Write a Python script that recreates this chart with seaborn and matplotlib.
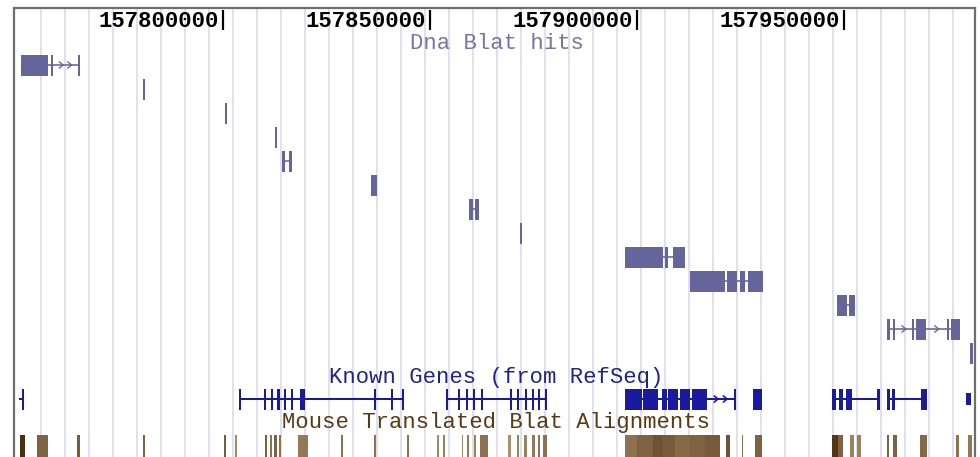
import numpy as np
import matplotlib
matplotlib.use("Agg")
import matplotlib.pyplot as plt
import matplotlib.transforms as mtransforms
import seaborn as sns

sns.set_theme(style="white")
plt.rcParams["font.family"] = ["Liberation Mono", "DejaVu Sans Mono", "DejaVu Sans"]

# ---------------- data ----------------
view_start, view_end = 157749600, 157981600
tick_positions = [157800000, 157850000, 157900000, 157950000]
tick_labels = ["157800000", "157850000", "157900000", "157950000"]

track_titles = ["Dna Blat hits", "Known Genes (from RefSeq)",
                "Mouse Translated Blat Alignments"]

# Dna Blat hits: aligned blocks for each packed row
blat_blocks = [
    [(157751250, 157757900), (157758550, 157758900), (157765050, 157765450)],
    [(157780800, 157781200)],
    [(157800500, 157801000)],
    [(157812600, 157813100)],
    [(157814300, 157815000), (157815900, 157816700)],
    [(157835700, 157837300)],
    [(157859500, 157860350), (157860900, 157861950)],
    [(157871700, 157872200)],
    [(157897100, 157906300), (157906800, 157907500), (157908700, 157911600)],
    [(157912800, 157921300), (157921700, 157924200), (157924800, 157926100),
     (157926800, 157930400)],
    [(157948300, 157950700), (157951300, 157952600)],
    [(157960350, 157961200), (157961700, 157962400), (157966400, 157966900),
     (157967350, 157969800), (157974850, 157975350), (157975800, 157978000)],
    [(157980500, 157981000)],
]
blat_strand = ["+"] * 13
blat_arrows = [True, False, False, False, False, False, False, False, False,
               False, False, True, False]

# Known genes (RefSeq)
gene_spans = [(157750700, 157751900), (157804000, 157843650),
              (157853900, 157878290), (157897100, 157923900),
              (157928100, 157930100), (157947100, 157958550),
              (157960300, 157970100), (157979450, 157980650)]
gene_exons = [
    [(157751550, 157751900)],
    [(157804000, 157804500), (157809950, 157810450), (157811650, 157812150),
     (157813200, 157813700), (157814800, 157815300), (157816500, 157817000),
     (157818550, 157819850), (157836500, 157837000), (157840600, 157841100),
     (157843150, 157843650)],
    [(157853900, 157854390), (157856800, 157857280), (157858730, 157859220),
     (157860420, 157860900), (157862350, 157862840), (157869230, 157869720),
     (157871040, 157871530), (157872980, 157873460), (157874670, 157875150),
     (157876110, 157876600), (157877800, 157878290)],
    [(157897100, 157901150), (157901550, 157905150), (157905950, 157907200),
     (157907550, 157910000), (157910400, 157912800), (157913200, 157916850),
     (157923450, 157923900)],
    [(157928100, 157930100)],
    [(157947100, 157947950), (157948650, 157949750), (157950450, 157951900),
     (157958050, 157958550)],
    [(157960300, 157961100), (157961500, 157962300), (157968500, 157970100)],
    [(157979450, 157980650)],
]
gene_coding = [True, True, True, True, True, True, True, False]
gene_strand = ["+", "+", "+", "+", "+", "-", "+", "+"]
gene_arrows = [False, False, False, True, False, False, False, False]

# Mouse translated blat alignments: start, end, shade (score, 0 light .. 1 dark)
mouse_starts = [157751070, 157755100, 157764900, 157780690, 157800310, 157802970,
                157810210, 157811300, 157812260, 157813590, 157818250, 157828560,
                157836520, 157844420, 157851800, 157853250, 157857700, 157859050,
                157860660, 157862110, 157868940, 157870970, 157872810, 157874590,
                157876040, 157877390, 157897115, 157899940, 157903950, 157906360,
                157909190, 157912810, 157916430, 157921500, 157925290, 157928500,
                157947010, 157948530, 157951430, 157953190, 157960290, 157961880,
                157968330, 157977020, 157979990]
mouse_ends = [157752280, 157757900, 157765550, 157781240, 157800800, 157803380,
              157810690, 157811780, 157813110, 157813950, 157820660, 157829040,
              157837010, 157844900, 157852290, 157853740, 157858080, 157859530,
              157861150, 157864120, 157869520, 157871600, 157873390, 157875390,
              157876600, 157878360, 157899940, 157903950, 157906360, 157909190,
              157912810, 157916430, 157920050, 157922460, 157925670, 157930120,
              157948530, 157949810, 157952400, 157954010, 157960920, 157962700,
              157969950, 157977820, 157980810]
mouse_shade = [0.95, 0.6, 0.65, 0.6, 0.65, 0.35,
               0.6, 0.5, 0.6, 0.5, 0.45, 0.5,
               0.5, 0.5, 0.35, 0.4, 0.35, 0.45,
               0.4, 0.5, 0.3, 0.4, 0.4, 0.45,
               0.5, 0.5, 0.5, 0.6, 0.7, 0.65,
               0.55, 0.6, 0.65, 0.7, 0.5, 0.6,
               0.9, 0.6, 0.4, 0.4, 0.6, 0.6,
               0.55, 0.5, 0.45]

# ---------------- style / layout ----------------
W, H = 980, 457
fig = plt.figure(figsize=(W / 100, H / 100), dpi=100)
fig.patch.set_facecolor("white")
ax_left, ax_right, ax_top = 14, 975, 8
ax = fig.add_axes([ax_left / W, 0, (ax_right - ax_left) / W, (H - ax_top) / H])
ax.set_xlim(view_start, view_end)
ax.set_ylim(H, ax_top)          # vertical units = screen rows
ax.set_xticks([])
ax.set_yticks([])
for s in ["top", "left", "right"]:
    ax.spines[s].set_color("#6e6e6e")
    ax.spines[s].set_linewidth(1.6)
ax.spines["bottom"].set_visible(False)

bp_per_px = (view_end - view_start) / (ax_right - ax_left)
PT = 0.72  # points per pixel at 100 dpi

# guidelines
guide_start, guide_step = 157756065, 5794
guides = np.arange(guide_start, view_end, guide_step)
ax.vlines(guides, ax_top, H + 5, color="#d6d6ee", lw=1.5 * PT, zorder=0)

# ruler ticks
ax.vlines(tick_positions, 10, 30, color="black", lw=2.2 * PT, zorder=3)
for tp, lab in zip(tick_positions, tick_labels):
    ax.text(tp - 4 * bp_per_px, 21, lab, ha="right", va="center",
            fontsize=16, fontweight="bold", color="black", zorder=3)

blend = mtransforms.blended_transform_factory(ax.transAxes, ax.transData)
title_x = (496.5 - ax_left) / (ax_right - ax_left)
title_colors = ["#7676a6", "#22228c", "#5a3a14"]
title_y = [43, 377, 422]
for t, c, y in zip(track_titles, title_colors, title_y):
    ax.text(title_x, y, t, ha="center", va="center", fontsize=16, color=c,
            transform=blend, zorder=3)


def chevrons(x0, x1, y, strand, color, lw):
    gap_px = (x1 - x0) / bp_per_px
    n = int(gap_px // 11)
    for k in range(n):
        c = x0 + (x1 - x0) * (k + 1) / (n + 1)
        dx = 2.2 * bp_per_px * (1 if strand == "+" else -1)
        ax.plot([c - dx, c + dx, c - dx], [y - 3.5, y, y + 3.5],
                color=color, lw=lw, solid_capstyle="butt", zorder=2)


# Dna Blat hits
blat_color = "#65659c"
for i, blocks in enumerate(blat_blocks):
    yc = 65 + 24 * i
    hh = 10.5
    ax.hlines(yc, blocks[0][0], blocks[-1][1], color=blat_color,
              lw=1.6 * PT, zorder=1)
    ax.broken_barh([(s, e - s) for s, e in blocks], (yc - hh, 2 * hh),
                   facecolors=blat_color, edgecolors="none", zorder=2)
    if blat_arrows[i]:
        for (s0, e0), (s1, e1) in zip(blocks[:-1], blocks[1:]):
            chevrons(e0, s1, yc, blat_strand[i], blat_color, 1.3 * PT)

# Known genes
gene_color = "#1a1a9e"
gy = 399
for span, exons, coding, strand, arr in zip(gene_spans, gene_exons, gene_coding,
                                            gene_strand, gene_arrows):
    ax.hlines(gy, span[0], span[1], color=gene_color, lw=2.0 * PT, zorder=1)
    hh = 10.5 if coding else 6
    ax.broken_barh([(s, e - s) for s, e in exons], (gy - hh, 2 * hh),
                   facecolors=gene_color, edgecolors="none", zorder=2)
    if arr:
        for (s0, e0), (s1, e1) in zip(exons[:-1], exons[1:]):
            chevrons(e0, s1, gy, strand, gene_color, 1.6 * PT)

# Mouse translated blat
light = np.array([0.84, 0.74, 0.58])
dark = np.array([0.27, 0.15, 0.04])
for s, e, sh in zip(mouse_starts, mouse_ends, mouse_shade):
    col = light + (dark - light) * sh
    ax.broken_barh([(s, e - s)], (435, 30), facecolors=[tuple(col)],
                   edgecolors="none", zorder=2)

fig.savefig("out.png", dpi=100, facecolor="white")
